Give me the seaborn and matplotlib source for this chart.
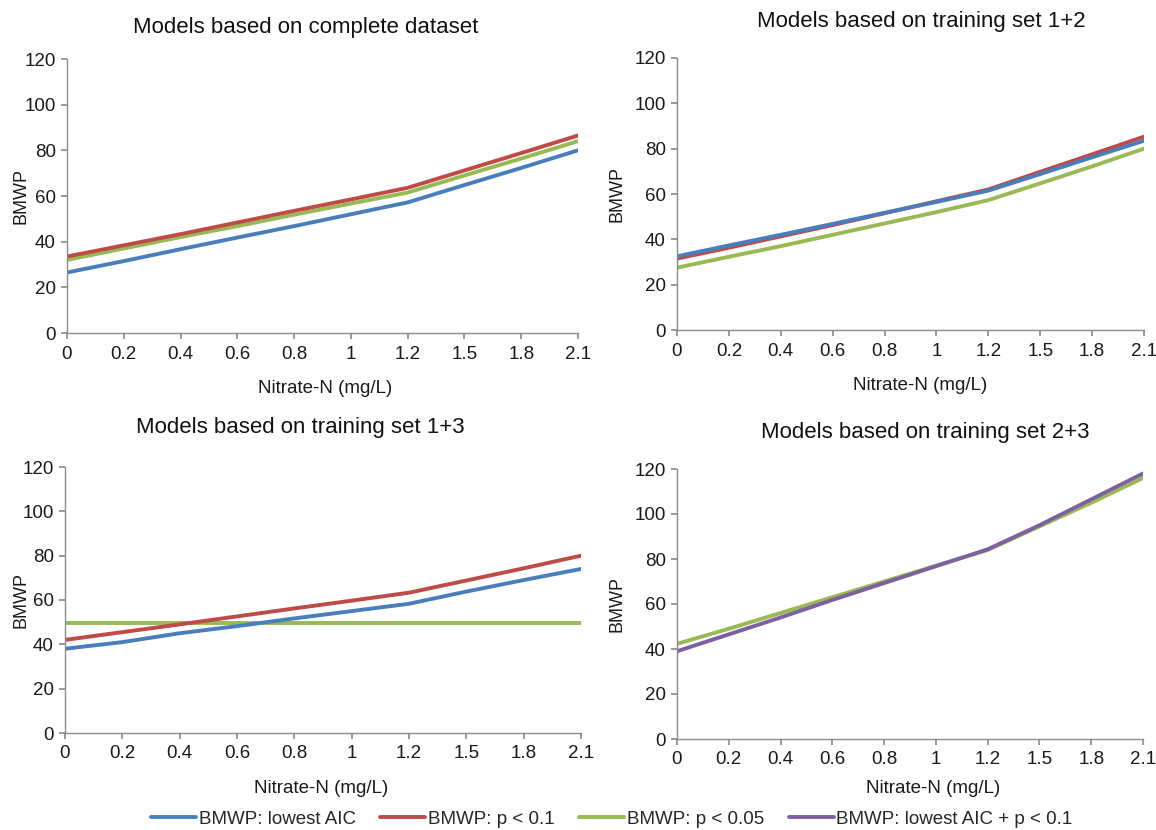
import matplotlib
matplotlib.use("Agg")
import matplotlib.pyplot as plt
import seaborn as sns
import pandas as pd
from matplotlib.lines import Line2D

# ---------------- data ----------------
nitrate = ["0", "0.2", "0.4", "0.6", "0.8", "1", "1.2", "1.5", "1.8", "2.1"]

titles = ["Models based on complete dataset",
          "Models based on training set 1+2",
          "Models based on training set 1+3",
          "Models based on training set 2+3"]

series_names = ["BMWP: lowest AIC", "BMWP: p < 0.1", "BMWP: p < 0.05",
                "BMWP: lowest AIC + p < 0.1"]

# panel 1: complete dataset
p1_lowest_aic = [26.5, 31.5, 36.7, 41.8, 46.8, 52.0, 57.2, 64.8, 72.3, 80.0]
p1_p01 = [33.5, 38.4, 43.3, 48.4, 53.5, 58.5, 63.6, 71.2, 78.8, 86.5]
p1_p005 = [32.0, 37.0, 42.0, 46.8, 51.8, 56.7, 61.5, 69.0, 76.4, 84.0]

# panel 2: training set 1+2
p2_lowest_aic = [32.5, 37.3, 42.0, 46.8, 51.7, 56.5, 61.5, 68.8, 76.2, 83.5]
p2_p01 = [31.5, 36.3, 41.3, 46.3, 51.5, 56.8, 62.0, 69.8, 77.5, 85.3]
p2_p005 = [27.5, 32.3, 37.0, 42.0, 47.0, 52.0, 57.3, 64.7, 72.2, 80.0]

# panel 3: training set 1+3
p3_lowest_aic = [38.0, 41.0, 45.0, 48.2, 51.7, 55.0, 58.3, 63.8, 69.0, 74.0]
p3_p01 = [42.0, 45.5, 49.0, 52.6, 56.2, 59.7, 63.3, 68.8, 74.3, 80.0]
p3_p005 = [49.5, 49.5, 49.5, 49.5, 49.5, 49.5, 49.5, 49.5, 49.5, 49.5]

# panel 4: training set 2+3
p4_p005 = [42.3, 49.0, 56.0, 63.0, 70.0, 77.0, 84.0, 94.5, 105.0, 116.0]
p4_lowest_aic_p01 = [39.0, 46.5, 54.0, 61.8, 69.3, 76.8, 84.3, 95.0, 106.5, 118.0]

y_ticks = [0, 20, 40, 60, 80, 100, 120]

# ---------------- style ----------------
sns.set_theme(style="white")
plt.rcParams['font.family'] = ['Liberation Sans', 'DejaVu Sans']

colors = {series_names[0]: "#4A7EBB",
          series_names[1]: "#BE4B48",
          series_names[2]: "#98B954",
          series_names[3]: "#7D60A0"}
spine_col = "#8C8C8C"
text_col = "#1A1A1A"

panels = [
    {series_names[0]: p1_lowest_aic, series_names[1]: p1_p01, series_names[2]: p1_p005},
    {series_names[0]: p2_lowest_aic, series_names[1]: p2_p01, series_names[2]: p2_p005},
    {series_names[0]: p3_lowest_aic, series_names[1]: p3_p01, series_names[2]: p3_p005},
    {series_names[2]: p4_p005, series_names[3]: p4_lowest_aic_p01},
]
# draw order inside each panel (last drawn on top)
draw_order = [
    [series_names[0], series_names[2], series_names[1]],
    [series_names[2], series_names[1], series_names[0]],
    [series_names[2], series_names[0], series_names[1]],
    [series_names[2], series_names[3]],
]

W, H = 1156, 830
fig = plt.figure(figsize=(W / 100, H / 100), dpi=100)

# axes boxes in pixels: left, top, right, bottom
boxes = [(67, 59, 578, 333), (677, 58, 1144, 330),
         (65, 467, 581, 733), (677, 469, 1143, 739)]
title_pos = [(306, 27), (921, 22), (300, 427), (925, 432)]
xlabel_pos = [(325, 388), (920, 385), (321, 788), (933, 788)]
ylabel_x = [21, 617, 21, 617]

for i, (l, t, r, b) in enumerate(boxes):
    ax = fig.add_axes([l / W, 1 - b / H, (r - l) / W, (b - t) / H])
    rows = []
    for name in draw_order[i]:
        for xv, yv in zip(nitrate, panels[i][name]):
            rows.append({"Nitrate": xv, "BMWP": yv, "series": name})
    df = pd.DataFrame(rows)
    sns.lineplot(data=df, x="Nitrate", y="BMWP", hue="series",
                 hue_order=draw_order[i], palette=colors, linewidth=2.8,
                 sort=False, legend=False, ax=ax)
    ax.set_xlim(0, len(nitrate) - 1)
    ax.set_ylim(0, 120)
    ax.set_yticks(y_ticks)
    ax.set_yticklabels([str(v) for v in y_ticks], fontsize=13.5, color=text_col)
    ax.set_xticks(range(len(nitrate)))
    ax.set_xticklabels(nitrate, fontsize=13.5, color=text_col)
    for s in ["top", "right"]:
        ax.spines[s].set_visible(False)
    for s in ["left", "bottom"]:
        ax.spines[s].set_color(spine_col)
        ax.spines[s].set_linewidth(1.0)
    ax.tick_params(axis="x", direction="out", length=4, color=spine_col,
                   bottom=True, pad=5)
    ax.tick_params(axis="y", direction="out", length=4, color=spine_col,
                   left=True, pad=4)
    ax.set_xlabel("")
    ax.set_ylabel("")
    tx, ty = title_pos[i]
    fig.text(tx / W, 1 - ty / H, titles[i], ha="center", va="center",
             fontsize=16, color="#111111")
    xx, xy = xlabel_pos[i]
    fig.text(xx / W, 1 - xy / H, "Nitrate-N (mg/L)",
             ha="center", va="center", fontsize=13.5, color=text_col)
    fig.text(ylabel_x[i] / W, 1 - ((t + b) / 2) / H, "BMWP", rotation=90,
             ha="center", va="center", fontsize=13, color=text_col)

handles = [Line2D([0], [0], color=colors[n], lw=2.8) for n in series_names]
fig.legend(handles, series_names, loc="center", ncol=4, frameon=False,
           bbox_to_anchor=(612 / W, 1 - 819 / H), fontsize=13.5,
           handlelength=2.4, handletextpad=0.15, columnspacing=1.3)

fig.savefig("out.png", dpi=100)
